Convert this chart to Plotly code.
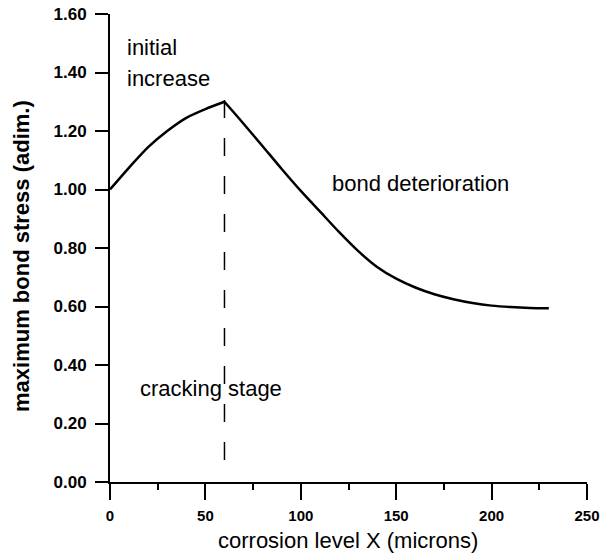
import plotly.graph_objects as go

# Normalised maximum bond stress versus corrosion penetration depth
corrosion_um = [0, 10, 20, 30, 40, 50, 60, 70, 80, 90, 100, 110, 120,
                130, 140, 150, 160, 170, 180, 190, 200, 210, 220, 230]
bond_stress = [1.00, 1.075, 1.145, 1.20, 1.245, 1.275, 1.30, 1.225, 1.148,
               1.07, 0.995, 0.925, 0.855, 0.79, 0.735, 0.695, 0.665, 0.642,
               0.625, 0.612, 0.603, 0.598, 0.595, 0.594]

# Onset of cover cracking
crack_x = [60, 60]
crack_y = [0.075, 1.33]

x_ticks = [0, 50, 100, 150, 200, 250]
y_ticks = [0.0, 0.2, 0.4, 0.6, 0.8, 1.0, 1.2, 1.4, 1.6]

FONT = "Liberation Sans, Arial, Helvetica, sans-serif"

# split at the peak so each branch is smoothed separately and the corner stays sharp
peak = bond_stress.index(max(bond_stress))

fig = go.Figure()
fig.add_trace(go.Scatter(
    x=crack_x, y=crack_y, mode="lines",
    line=dict(color="black", width=1.5, dash="18px,20px"),
    hoverinfo="skip"))
for sl in (slice(0, peak + 1), slice(peak, None)):
    fig.add_trace(go.Scatter(
        x=corrosion_um[sl], y=bond_stress[sl], mode="lines",
        line=dict(color="black", width=2.5, shape="spline", smoothing=0.8)))

text_font = dict(family=FONT, size=22, color="black")
notes = [
    ("initial", 8, 1.484),
    ("increase", 8, 1.381),
    ("bond deterioration", 115.3, 1.019),
    ("cracking stage", 14.7, 0.321),
]
for txt, xv, yv in notes:
    fig.add_annotation(x=xv, y=yv, text=txt, showarrow=False,
                       xanchor="left", yanchor="middle", font=text_font)

# Axis titles
fig.add_annotation(xref="paper", yref="paper", x=0.499, y=-0.126,
                   text="corrosion level X (microns)", showarrow=False,
                   xanchor="center", yanchor="middle",
                   font=dict(family=FONT, size=22, color="black"))
fig.add_annotation(xref="paper", yref="paper", x=-0.1845, y=0.483,
                   text="<b>maximum bond stress (adim.)</b>", showarrow=False,
                   textangle=-90, xanchor="center", yanchor="middle",
                   font=dict(family=FONT, size=22, color="black"))

fig.update_xaxes(
    range=[0, 250], tickvals=x_ticks, ticktext=[str(v) for v in x_ticks],
    showline=True, linecolor="black", linewidth=2, mirror=False,
    ticks="outside", ticklen=16, tickwidth=2, tickcolor="black",
    ticklabelstandoff=3,
    minor=dict(dtick=25, tick0=0, ticks="outside", ticklen=6,
               tickwidth=1.5, tickcolor="black"),
    showgrid=False, zeroline=False, automargin=False,
    tickfont=dict(family=FONT, size=15, color="black", weight="bold"))
fig.update_yaxes(
    range=[0, 1.6], tickvals=y_ticks, ticktext=[f"{v:.2f}" for v in y_ticks],
    showline=True, linecolor="black", linewidth=2, mirror=False,
    ticks="outside", ticklen=13, tickwidth=2, tickcolor="black",
    ticklabelstandoff=5,
    showgrid=False, zeroline=False, automargin=False,
    tickfont=dict(family=FONT, size=17, color="black", weight="bold"))

fig.update_layout(
    width=603, height=557,
    margin=dict(l=110, r=16, t=14, b=75, autoexpand=False),
    plot_bgcolor="white", paper_bgcolor="white",
    showlegend=False)

fig.write_html("out.html")
